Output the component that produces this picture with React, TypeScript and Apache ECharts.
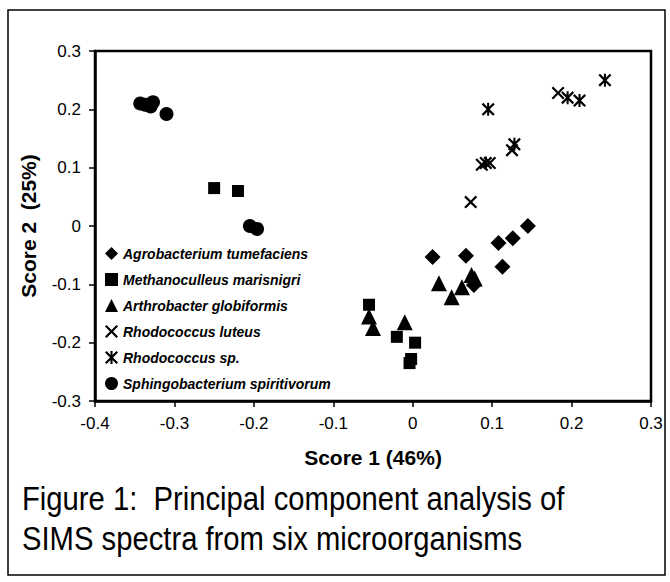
import React, { useEffect, useRef } from "react";
import * as echarts from "echarts";

const seriesNames = [
  "Agrobacterium tumefaciens",
  "Methanoculleus marisnigri",
  "Arthrobacter globiformis",
  "Rhodococcus luteus",
  "Rhodococcus sp.",
  "Sphingobacterium spiritivorum",
];

const agroX = [0.025, 0.067, 0.108, 0.126, 0.145, 0.113, 0.077];
const agroY = [-0.053, -0.051, -0.029, -0.021, 0.0, -0.07, -0.101];

const methX = [-0.25, -0.22, -0.055, -0.02, 0.003, -0.002, -0.004];
const methY = [0.065, 0.06, -0.135, -0.19, -0.2, -0.228, -0.235];

const arthX = [-0.055, -0.05, -0.01, 0.033, 0.049, 0.062, 0.074, 0.078];
const arthY = [-0.155, -0.175, -0.165, -0.098, -0.122, -0.105, -0.084, -0.09];

const rhlX = [0.073, 0.087, 0.097, 0.125, 0.183];
const rhlY = [0.041, 0.105, 0.108, 0.13, 0.228];

const rhsX = [0.095, 0.092, 0.128, 0.195, 0.21, 0.242];
const rhsY = [0.2, 0.108, 0.14, 0.22, 0.215, 0.25];

const sphX = [-0.343, -0.337, -0.33, -0.327, -0.31, -0.205, -0.196];
const sphY = [0.21, 0.208, 0.205, 0.212, 0.192, 0.0, -0.005];

const xTitle = "Score 1 (46%)";
const yTitle = "Score 2  (25%)";
const captionLines = [
  "Figure 1:  Principal component analysis of",
  "SIMS spectra from six microorganisms",
];

const FONT = "Liberation Sans, Arial, Helvetica, sans-serif";

const X_PATH =
  "path://M0,1.2 L1.2,0 L5,3.8 L8.8,0 L10,1.2 L6.2,5 L10,8.8 L8.8,10 L5,6.2 L1.2,10 L0,8.8 L3.8,5 Z";
const STAR_PATH =
  "path://M0,1.2 L1.2,0 L5,3.8 L8.8,0 L10,1.2 L6.2,5 L10,8.8 L8.8,10 L5,6.2 L1.2,10 L0,8.8 L3.8,5 Z M4.2,0 L5.8,0 L5.8,10 L4.2,10 Z";

const zip = (xs: number[], ys: number[]) => xs.map((x, i) => [x, ys[i]]);

const fmt = (v: number) => String(Math.round(v * 10) / 10);

export default function App() {
  const ref = useRef<HTMLDivElement>(null);
  useEffect(() => {
    document.body.style.margin = "0";
    const chart = echarts.init(ref.current!, null, { renderer: "svg" });
    const mk = (name: string, xs: number[], ys: number[], symbol: string, size: number) => ({
      name,
      type: "scatter",
      data: zip(xs, ys),
      symbol,
      symbolSize: size,
      itemStyle: { color: "#000", opacity: 1 },
      emphasis: { disabled: true },
    });
    chart.setOption({
      animation: false,
      backgroundColor: "#fff",
      textStyle: { fontFamily: FONT },
      grid: {
        left: 95,
        top: 51,
        width: 556,
        height: 350,
        show: true,
        borderColor: "#000",
        borderWidth: 2.5,
        backgroundColor: "transparent",
      },
      legend: {
        orient: "vertical",
        left: 100,
        top: 241,
        itemWidth: 13,
        itemHeight: 13,
        itemGap: 11,
        data: seriesNames,
        textStyle: {
          fontFamily: FONT,
          fontStyle: "italic",
          fontWeight: "bold",
          fontSize: 14,
          color: "#000",
          lineHeight: 15,
        },
        selectedMode: false,
      },
      xAxis: {
        type: "value",
        min: -0.4,
        max: 0.3,
        interval: 0.1,
        name: xTitle,
        nameLocation: "middle",
        nameGap: 46,
        nameTextStyle: { fontFamily: FONT, fontWeight: "bold", fontSize: 21, color: "#000" },
        axisLine: { show: true, onZero: false, lineStyle: { color: "#000", width: 2.5 } },
        axisTick: { show: true, inside: false, length: 6, lineStyle: { color: "#000", width: 1.5 } },
        axisLabel: { formatter: fmt, fontSize: 17, color: "#000", margin: 14, fontFamily: FONT },
        splitLine: { show: false },
      },
      yAxis: {
        type: "value",
        min: -0.3,
        max: 0.3,
        interval: 0.1,
        name: yTitle,
        nameLocation: "middle",
        nameGap: 56,
        nameRotate: 90,
        nameTextStyle: { fontFamily: FONT, fontWeight: "bold", fontSize: 21, color: "#000" },
        axisLine: { show: true, onZero: false, lineStyle: { color: "#000", width: 2.5 } },
        axisTick: { show: true, inside: false, length: 6, lineStyle: { color: "#000", width: 1.5 } },
        axisLabel: { formatter: fmt, fontSize: 17, color: "#000", margin: 14, fontFamily: FONT },
        splitLine: { show: false },
      },
      series: [
        mk(seriesNames[0], agroX, agroY, "diamond", 16),
        mk(seriesNames[1], methX, methY, "rect", 12),
        mk(seriesNames[2], arthX, arthY, "triangle", 16),
        mk(seriesNames[3], rhlX, rhlY, X_PATH, 13),
        mk(seriesNames[4], rhsX, rhsY, STAR_PATH, 13),
        mk(seriesNames[5], sphX, sphY, "circle", 14),
      ],
      graphic: [
        {
          type: "rect",
          shape: { x: 8, y: 10, width: 657, height: 565 },
          style: { fill: "none", stroke: "#000", lineWidth: 1.5 },
          silent: true,
        },
        {
          type: "text",
          x: 22,
          y: 478,
          scaleX: 0.86,
          style: {
            text: captionLines.join("\n"),
            font: `34px ${FONT}`,
            fill: "#000",
            lineHeight: 40,
          },
          silent: true,
        },
      ],
    });
    return () => chart.dispose();
  }, []);
  return (
    <div
      ref={ref}
      style={{ position: "absolute", left: 0, top: 0, width: 670, height: 582 }}
    />
  );
}
